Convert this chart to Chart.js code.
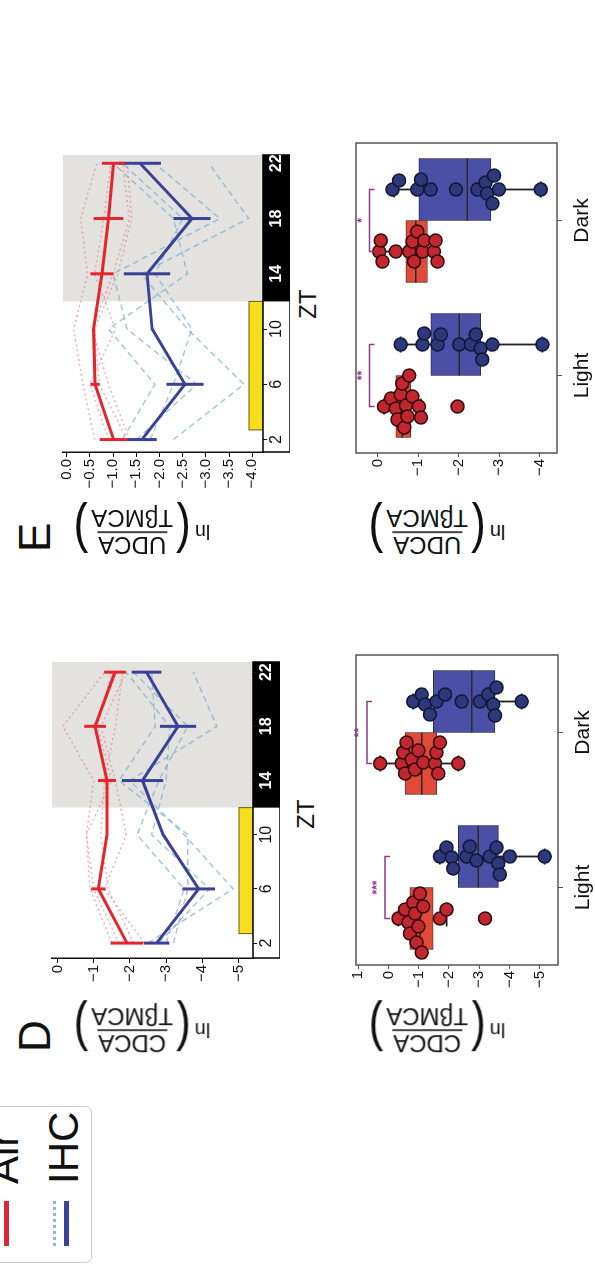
<!DOCTYPE html>
<html>
<head>
<meta charset="utf-8">
<script src="https://cdn.jsdelivr.net/npm/chart.js@4.4.1/dist/chart.umd.min.js"></script>
<style>
  html, body { margin: 0; padding: 0; background: #fff; overflow: hidden; }
  body { width: 595px; height: 1279px; position: relative; }
  /* the figure is laid out upright and turned a quarter to the left */
  #fig { position: absolute; left: 0; top: 0; width: 1279px; height: 595px;
         transform-origin: 0 0; transform: translate(0, 1279px) rotate(-90deg);
         font-family: "Liberation Sans", Arial, sans-serif; color: #111; }
  #fig canvas { position: absolute; }
  .lbl { position: absolute; white-space: nowrap; line-height: 1; }
  .panel { font-size: 44px; }
  .zt { font-size: 24px; transform: translate(-50%, -50%); }
  .ytitle { position: absolute; display: flex; align-items: center; white-space: nowrap;
            transform: translate(-50%, -50%) rotate(-90deg); }
  .ytitle .ln { font-size: 20px; margin-right: 4px; }
  .ytitle .par { font-size: 44px; line-height: 1; display: inline-block; transform: scaleY(1.25); }
  .ytitle .frac { display: inline-flex; flex-direction: column; align-items: center;
                  font-size: 24px; line-height: 1.05; margin: 0 3px; }
  .ytitle .num { border-bottom: 2px solid #444; padding: 0 1px; }
  #legend { position: absolute; left: 16px; top: -12px; width: 155px; height: 102px;
            border: 1px solid #ccc; border-radius: 6px; }
  #legend div { position: absolute; }
  #legend .txt { font-size: 42px; line-height: 1; }
</style>
</head>
<body>
<div id="fig">
  <canvas id="dLine" width="366" height="240" style="left:261px;top:40px"></canvas>
  <canvas id="dBox" width="365" height="258" style="left:269px;top:345px"></canvas>
  <canvas id="eLine" width="367" height="239" style="left:767px;top:51px"></canvas>
  <canvas id="eBox" width="365" height="257" style="left:781px;top:345px"></canvas>

  <div id="legend">
    <div style="left:16px;top:15px;width:45px;height:5px;background:#d8263a"></div>
    <div class="txt" style="left:78px;top:-6px">Air</div>
    <div style="left:16px;top:64px;width:45px;border-top:3px dotted #8fb8d8"></div>
    <div style="left:16px;top:75px;width:45px;height:5px;background:#3b4197"></div>
    <div class="txt" style="left:78px;top:54px">IHC</div>
  </div>

  <div class="lbl panel" style="left:227px;top:13px">D</div>
  <div class="lbl panel" style="left:727px;top:13px">E</div>

  <div class="ytitle" style="left:249px;top:142px"><span class="ln">ln</span><span class="par">(</span><span class="frac"><span class="num">CDCA</span><span>TβMCA</span></span><span class="par">)</span></div>
  <div class="ytitle" style="left:249px;top:437px"><span class="ln">ln</span><span class="par">(</span><span class="frac"><span class="num">CDCA</span><span>TβMCA</span></span><span class="par">)</span></div>
  <div class="ytitle" style="left:747px;top:142px"><span class="ln">ln</span><span class="par">(</span><span class="frac"><span class="num">UDCA</span><span>TβMCA</span></span><span class="par">)</span></div>
  <div class="ytitle" style="left:747px;top:437px"><span class="ln">ln</span><span class="par">(</span><span class="frac"><span class="num">UDCA</span><span>TβMCA</span></span><span class="par">)</span></div>

  <div class="lbl zt" style="left:465px;top:306px">ZT</div>
  <div class="lbl zt" style="left:975px;top:308px">ZT</div>
</div>

<script>
// time points and light/dark phases
const zt = [2, 6, 10, 14, 18, 22];
const darkStart = 12;
const lightBar = [2.7, 12];

// D: ln(CDCA/TβMCA) over the day
const dAirMean = [-1.92, -1.13, -1.37, -1.37, -1.04, -1.59];
const dAirSem = [0.45, 0.2, null, 0.25, 0.3, 0.3];
const dIhcMean = [-2.74, -3.9, -2.92, -2.35, -3.33, -2.46];
const dIhcSem = [0.35, 0.45, null, 0.57, 0.5, 0.41];
const dAirMice = [
  [-1.5, -0.9, -0.8, -1.0, -0.15, -1.3],
  [-2.4, -1.3, -1.9, -1.6, -1.2, -1.9],
  [-1.7, -1.0, -0.8, -1.5, -1.1, -1.5],
  [-2.1, -1.4, -1.2, -1.3, -1.6, -1.8]
];
const dIhcMice = [
  [-2.5, -4.85, -3.5, -2.0, -4.4, -3.75],
  [-3.0, -3.5, -2.2, -2.8, -3.6, -2.1],
  [-2.8, -4.2, -2.6, -3.0, -3.1, -1.9],
  [-3.2, -3.6, -3.6, -1.7, -2.7, -2.6]
];
const dLineTicks = [-5, -4, -3, -2, -1, 0];

// E: ln(UDCA/TβMCA) over the day
const eAirMean = [-1.01, -0.61, -0.58, -0.76, -0.9, -1.01];
const eAirSem = [0.3, 0.1, null, 0.25, 0.32, 0.25];
const eIhcMean = [-1.62, -2.55, -1.84, -1.73, -2.7, -1.58];
const eIhcSem = [0.32, 0.4, null, 0.5, 0.4, 0.45];
const eAirMice = [
  [-0.6, -0.35, -0.15, -0.45, -0.3, -0.65],
  [-1.35, -0.9, -0.55, -1.0, -1.35, -1.2],
  [-0.9, -0.5, -1.05, -0.6, -0.8, -0.95],
  [-1.3, -0.7, -0.6, -1.1, -1.4, -1.3]
];
const eIhcMice = [
  [-2.3, -3.82, -2.6, -1.6, -3.92, -3.06],
  [-1.2, -1.9, -0.9, -2.6, -2.3, -1.0],
  [-1.5, -2.8, -1.3, -1.0, -3.3, -1.9],
  [-1.8, -2.3, -2.7, -1.9, -2.5, -1.2]
];
const eLineTicks = [-4, -3.5, -3, -2.5, -2, -1.5, -1, -0.5, 0];

// box panels: [low whisker, lower quartile, median, upper quartile, high whisker]
const phases = ['Light', 'Dark'];
const dAirBox = [[-1.92, -1.48, -1.04, -0.71, -0.33], [-2.31, -1.59, -1.10, -0.55, 0.27]];
const dIhcBox = [[-5.16, -3.63, -2.97, -2.31, -1.70], [-4.40, -3.52, -2.75, -1.48, -0.82]];
const dAirDots = [
  [-0.33, -0.55, -0.66, -0.71, -0.82, -0.88, -0.93, -0.99, -1.04, -1.10, -1.15, -1.70, -1.92, -3.19],
  [0.27, -0.44, -0.49, -0.55, -0.60, -0.77, -0.88, -0.99, -1.15, -1.54, -1.59, -1.65, -1.70, -2.31]
];
const dIhcDots = [
  [-1.70, -1.92, -2.09, -2.14, -2.58, -2.69, -2.91, -3.35, -3.57, -3.63, -3.68, -4.01, -5.16],
  [-0.82, -1.10, -1.21, -1.37, -1.59, -1.87, -2.42, -3.02, -3.30, -3.46, -3.52, -3.57, -4.40]
];
const dStars = ['***', '**'];
const dStarY = [0.11, 0.71];
const dBoxTicks = [-5, -4, -3, -2, -1, 0, 1];

const eAirBox = [[-1.07, -0.82, -0.61, -0.45, -0.16], [-1.48, -1.23, -0.94, -0.70, -0.04]];
const eIhcBox = [[-4.06, -2.54, -2.01, -1.31, -0.57], [-4.02, -2.79, -2.21, -1.02, -0.41]];
const eAirDots = [
  [-0.16, -0.33, -0.45, -0.49, -0.57, -0.61, -0.66, -0.70, -0.74, -0.78, -0.86, -1.02, -1.07, -1.97],
  [-0.04, -0.08, -0.12, -0.45, -0.78, -0.86, -0.90, -0.98, -1.11, -1.15, -1.39, -1.43, -1.48]
];
const eIhcDots = [
  [-0.57, -1.11, -1.15, -1.48, -1.56, -2.01, -2.30, -2.42, -2.54, -2.58, -2.83, -4.06],
  [-0.37, -0.53, -0.98, -1.07, -1.31, -1.93, -2.46, -2.66, -2.70, -2.83, -2.87, -2.99, -4.02]
];
const eStars = ['**', '*'];
const eStarY = [0.2, 0.2];
const eBoxTicks = [-4, -3, -2, -1, 0];

const RED = '#e3262c', BLUE = '#3b4197';
const boxShift = 0.2; // Air box sits left of the phase tick, IHC right

Chart.defaults.font.family = '"Liberation Sans", Arial, sans-serif';
Chart.defaults.color = '#111';

function minus(v, digits) {
  const s = digits ? Math.abs(v).toFixed(digits) : String(Math.abs(v));
  return (v < 0 ? '\u2212' : '') + s;
}

function xyOf(vals) {
  return zt.map((t, i) => ({ x: t, y: vals[i] }));
}

function lineChart(id, o) {
  const sets = [];
  o.ihcMice.forEach(m => sets.push({ data: xyOf(m), borderColor: 'rgba(120,172,208,0.7)', borderDash: [6, 4], borderWidth: 1.4, order: 3 }));
  o.airMice.forEach(m => sets.push({ data: xyOf(m), borderColor: 'rgba(226,118,132,0.6)', borderDash: [2, 3], borderWidth: 1.4, order: 3 }));
  sets.push({ data: xyOf(o.ihcMean), borderColor: BLUE, borderWidth: 3, order: 1 });
  sets.push({ data: xyOf(o.airMean), borderColor: RED, borderWidth: 3, order: 1 });

  const dayNight = {
    id: 'dayNight',
    beforeDraw(chart) {
      const { ctx, chartArea: a, scales: { x } } = chart;
      const xd = x.getPixelForValue(darkStart);
      ctx.save();
      ctx.fillStyle = '#e3e2df';
      ctx.fillRect(xd, a.top, a.right - xd, a.bottom - a.top);
      const l0 = x.getPixelForValue(lightBar[0]), l1 = x.getPixelForValue(lightBar[1]);
      ctx.fillStyle = '#f5de1c';
      ctx.strokeStyle = '#6d5c10';
      ctx.lineWidth = 1;
      ctx.fillRect(l0, a.bottom - 14, l1 - l0, 14);
      ctx.strokeRect(l0, a.bottom - 14, l1 - l0, 14);
      const h = x.bottom - x.top;
      ctx.fillStyle = '#fff';
      ctx.fillRect(a.left, a.bottom, a.right - a.left, h);
      ctx.fillStyle = '#000';
      ctx.fillRect(xd, a.bottom, a.right - xd, h);
      ctx.strokeStyle = '#000';
      ctx.lineWidth = 1.5;
      ctx.strokeRect(a.left, a.bottom, a.right - a.left, h);
      ctx.restore();
    },
    afterDatasetsDraw(chart) {
      // plain error bars, no caps
      const { ctx, scales: { x, y } } = chart;
      ctx.save();
      ctx.lineWidth = 3;
      [[o.ihcMean, o.ihcSem, BLUE], [o.airMean, o.airSem, RED]].forEach(([mean, sem, color]) => {
        ctx.strokeStyle = color;
        zt.forEach((t, i) => {
          if (sem[i] == null) return;
          const px = x.getPixelForValue(t);
          ctx.beginPath();
          ctx.moveTo(px, y.getPixelForValue(mean[i] + sem[i]));
          ctx.lineTo(px, y.getPixelForValue(mean[i] - sem[i]));
          ctx.stroke();
        });
      });
      ctx.restore();
    }
  };

  return new Chart(document.getElementById(id), {
    type: 'line',
    data: { datasets: sets },
    options: {
      responsive: false,
      devicePixelRatio: 1,
      animation: false,
      events: [],
      layout: { padding: { top: 12, right: 10, left: 0, bottom: 0 } },
      elements: { point: { radius: 0 }, line: { tension: 0, fill: false } },
      plugins: { legend: { display: false }, tooltip: { enabled: false } },
      scales: {
        x: {
          type: 'linear', min: o.xMin, max: o.xMax,
          afterBuildTicks: s => { s.ticks = zt.map(v => ({ value: v })); },
          afterFit: s => { s.height = 27; },
          grid: { drawOnChartArea: false, drawTicks: true, tickLength: 4, color: '#111' },
          border: { display: false },
          ticks: {
            padding: 0,
            maxRotation: 0,
            color: c => (c.tick && c.tick.value >= darkStart ? '#fff' : '#111'),
            font: c => ({ size: 16, weight: c.tick && c.tick.value >= darkStart ? 'bold' : 'normal' })
          }
        },
        y: {
          min: o.yMin, max: o.yMax,
          afterBuildTicks: s => { s.ticks = o.yTicks.map(v => ({ value: v })); },
          afterFit: s => { s.width = 60; },
          grid: { drawOnChartArea: false, drawTicks: true, tickLength: 5, color: '#111' },
          border: { display: true, color: '#111', width: 1.5 },
          ticks: { padding: 2, font: { size: 15 }, callback: v => minus(v, o.digits) }
        }
      }
    },
    plugins: [dayNight]
  });
}

function boxChart(id, o) {
  const dots = (groups) => {
    const pts = [];
    groups.forEach((vals, j) => vals.forEach(v => pts.push({ x: j, y: v, g: j })));
    return pts;
  };
  const boxes = (list, shift) => list.map((b, j) => ({ x: j + shift, y: [b[1], b[3]] }));
  const sets = [
    { type: 'bar', xAxisID: 'xs', grouped: false, data: boxes(o.air, -boxShift), backgroundColor: '#e04a37', borderColor: '#5b3a36', borderWidth: 1, borderSkipped: false, order: 2 },
    { type: 'bar', xAxisID: 'xs', grouped: false, data: boxes(o.ihc, boxShift), backgroundColor: '#4b50a6', borderColor: '#2c2f55', borderWidth: 1, borderSkipped: false, order: 2 },
    { type: 'scatter', xAxisID: 'xs', data: dots(o.airDots), pointRadius: 6.5, pointBackgroundColor: '#c2262e', pointBorderColor: '#2f0c0e', pointBorderWidth: 1.5, order: 0 },
    { type: 'scatter', xAxisID: 'xs', data: dots(o.ihcDots), pointRadius: 6.5, pointBackgroundColor: '#2f3878', pointBorderColor: '#12163a', pointBorderWidth: 1.5, order: 0 }
  ];

  const decor = {
    id: 'boxDecor',
    beforeDatasetsDraw(chart) {
      const { ctx, scales: { y } } = chart;
      ctx.save();
      ctx.strokeStyle = '#222';
      ctx.lineWidth = 1.8;
      [[0, o.air], [1, o.ihc]].forEach(([bi, list]) => {
        chart.getDatasetMeta(bi).data.forEach((el, j) => {
          const lo = y.getPixelForValue(list[j][0]), hi = y.getPixelForValue(list[j][4]);
          ctx.beginPath();
          ctx.moveTo(el.x, lo); ctx.lineTo(el.x, hi);
          ctx.moveTo(el.x - 8, lo); ctx.lineTo(el.x + 8, lo);
          ctx.moveTo(el.x - 8, hi); ctx.lineTo(el.x + 8, hi);
          ctx.stroke();
        });
      });
      ctx.restore();
    },
    afterDatasetDraw(chart, args) {
      if (args.index > 1) return;
      const { ctx, scales: { y } } = chart;
      const list = args.index === 0 ? o.air : o.ihc;
      ctx.save();
      ctx.strokeStyle = '#2a2a2a';
      ctx.lineWidth = 1.5;
      args.meta.data.forEach((el, j) => {
        const m = y.getPixelForValue(list[j][2]);
        ctx.beginPath();
        ctx.moveTo(el.x - el.width / 2, m); ctx.lineTo(el.x + el.width / 2, m);
        ctx.stroke();
      });
      ctx.restore();
    },
    afterDraw(chart) {
      const { ctx, chartArea: a, scales: { y } } = chart;
      ctx.save();
      ctx.strokeStyle = '#555';
      ctx.lineWidth = 1.5;
      ctx.strokeRect(a.left, a.top, a.right - a.left, a.bottom - a.top);
      const airEls = chart.getDatasetMeta(0).data, ihcEls = chart.getDatasetMeta(1).data;
      ctx.strokeStyle = '#8e3a8e';
      ctx.fillStyle = '#8e3a8e';
      ctx.font = 'bold 12px "Liberation Sans", Arial, sans-serif';
      ctx.textAlign = 'center';
      ctx.textBaseline = 'bottom';
      o.stars.forEach((s, j) => {
        const xa = airEls[j].x, xb = ihcEls[j].x, yb = y.getPixelForValue(o.starY[j]);
        ctx.beginPath();
        ctx.moveTo(xa, yb + 5); ctx.lineTo(xa, yb); ctx.lineTo(xb, yb); ctx.lineTo(xb, yb + 5);
        ctx.stroke();
        ctx.fillText(s, (xa + xb) / 2, yb - 1);
      });
      ctx.restore();
    }
  };

  const chart = new Chart(document.getElementById(id), {
    type: 'bar',
    data: { labels: phases, datasets: sets },
    options: {
      responsive: false,
      devicePixelRatio: 1,
      animation: false,
      events: [],
      layout: { padding: { top: 10, right: 10, left: 0, bottom: 0 } },
      datasets: { bar: { categoryPercentage: 1, barPercentage: 1 } },
      plugins: { legend: { display: false }, tooltip: { enabled: false } },
      scales: {
        x: {
          type: 'category', offset: true,
          afterFit: s => { s.height = 45; },
          grid: { offset: false, drawOnChartArea: false, drawTicks: true, tickLength: 5, color: '#555' },
          border: { display: false },
          ticks: { padding: 8, font: { size: 21 } }
        },
        xs: {
          type: 'linear', display: false, offset: false, min: -0.5, max: 1.5,
          afterBuildTicks: s => { s.ticks = phases.map((p, j) => ({ value: j })); }
        },
        y: {
          min: o.yMin, max: o.yMax,
          afterBuildTicks: s => { s.ticks = o.yTicks.map(v => ({ value: v })); },
          afterFit: s => { s.width = 45; },
          grid: { drawOnChartArea: false, drawTicks: true, tickLength: 4, color: '#555' },
          border: { display: false },
          ticks: { padding: 2, font: { size: 15 }, callback: v => minus(v) }
        }
      }
    },
    plugins: [decor]
  });

  // spread the dots around each box centre; they may overlap a little, as in a swarm plot
  const xs = chart.scales.xs, y = chart.scales.y;
  const gap = 10.5;
  [[0, 2], [1, 3]].forEach(([bi, si]) => {
    const centres = chart.getDatasetMeta(bi).data.map(el => el.x);
    const pts = chart.data.datasets[si].data;
    phases.forEach((p, j) => {
      const placed = [];
      pts.filter(d => d.g === j).sort((a, b) => b.y - a.y).forEach(d => {
        const py = y.getPixelForValue(d.y);
        let off = 0;
        for (let k = 0; k < 200; k++) {
          const c = (k % 2 ? 1 : -1) * Math.ceil(k / 2);
          if (placed.every(q => (q.x - c) ** 2 + (q.y - py) ** 2 >= gap * gap)) { off = c; break; }
        }
        placed.push({ x: off, y: py });
        d.x = xs.getValueForPixel(centres[j] + off);
      });
    });
  });
  chart.update('none');
  return chart;
}

lineChart('dLine', {
  airMean: dAirMean, airSem: dAirSem, ihcMean: dIhcMean, ihcSem: dIhcSem,
  airMice: dAirMice, ihcMice: dIhcMice,
  xMin: 0.9, xMax: 22.75, yMin: -5.4, yMax: 0.15, yTicks: dLineTicks, digits: 0
});
lineChart('eLine', {
  airMean: eAirMean, airSem: eAirSem, ihcMean: eIhcMean, ihcSem: eIhcSem,
  airMice: eAirMice, ihcMice: eIhcMice,
  xMin: 1.1, xMax: 22.6, yMin: -4.23, yMax: 0.08, yTicks: eLineTicks, digits: 1
});
boxChart('dBox', {
  air: dAirBox, ihc: dIhcBox, airDots: dAirDots, ihcDots: dIhcDots,
  stars: dStars, starY: dStarY, yMin: -5.6, yMax: 1.07, yTicks: dBoxTicks
});
boxChart('eBox', {
  air: eAirBox, ihc: eIhcBox, airDots: eAirDots, ihcDots: eIhcDots,
  stars: eStars, starY: eStarY, yMin: -4.42, yMax: 0.53, yTicks: eBoxTicks
});
</script>
</body>
</html>
